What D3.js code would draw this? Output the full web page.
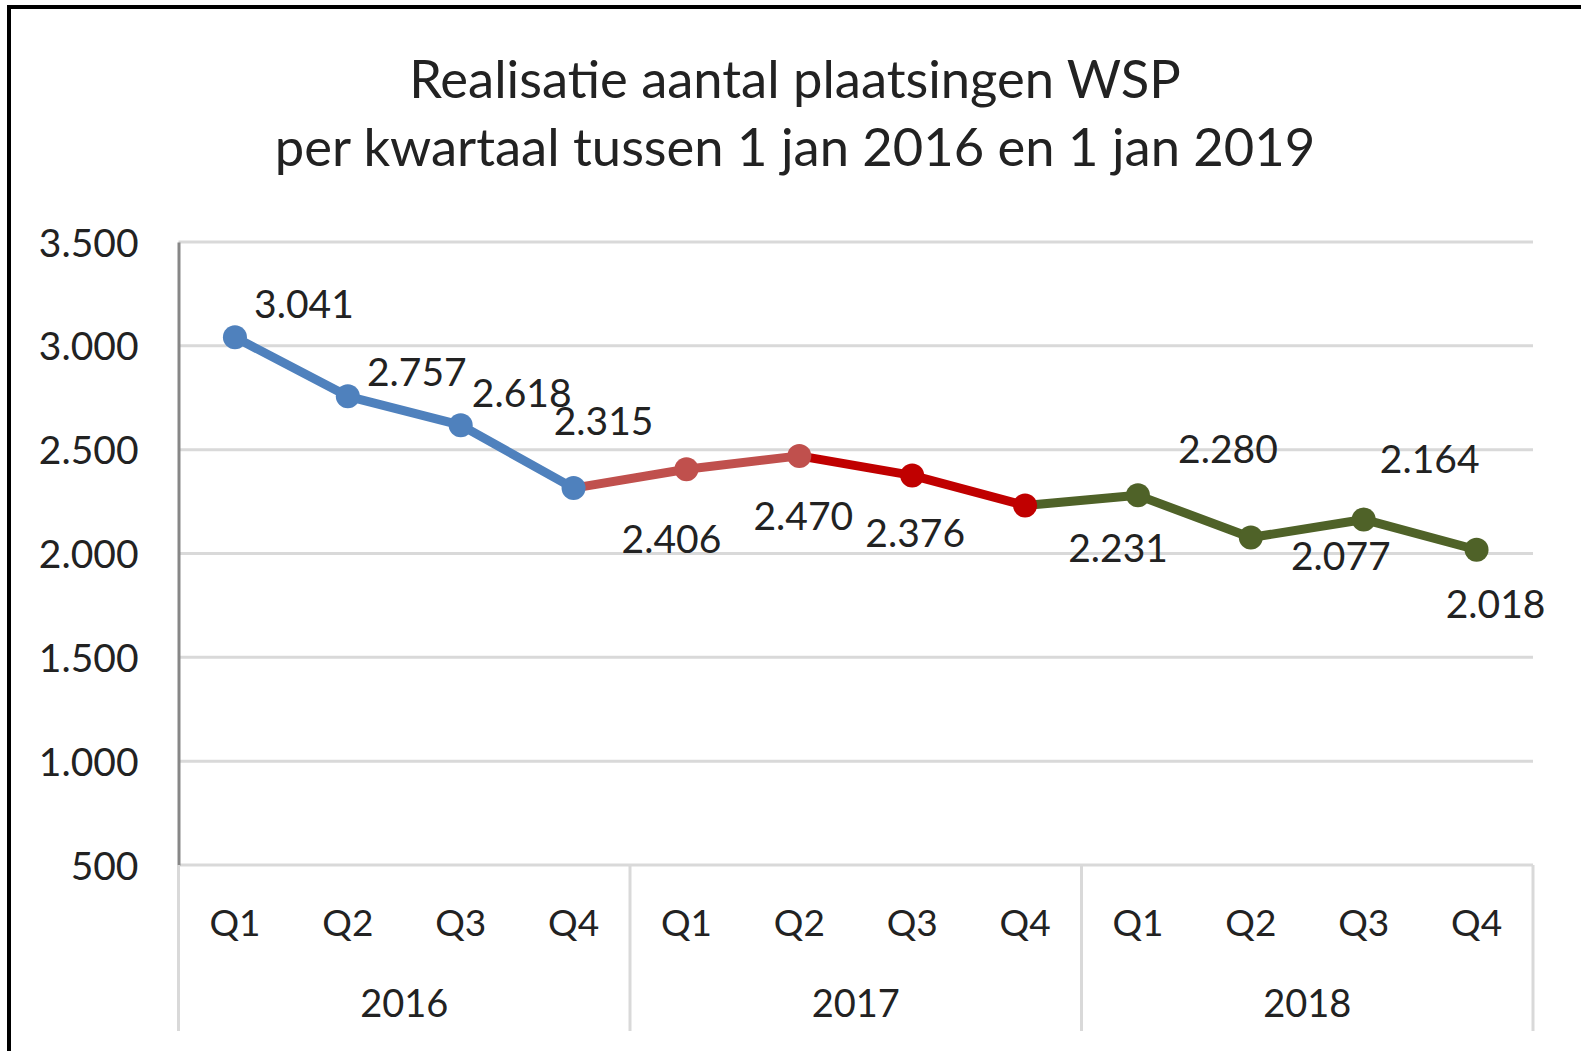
<!DOCTYPE html>
<html lang="nl">
<head>
  <meta charset="UTF-8">
  <title>Realisatie aantal plaatsingen WSP</title>
  <style>
    body { margin: 0; background: #fff; }
    text { font-family: Lato, "Noto Sans", sans-serif; fill: #222; }
  </style>
</head>
<body>
  <script src="https://d3js.org/d3.v7.min.js"></script>
  <script>
    // data
    const years = ['2016', '2017', '2018'];
    const quarters = ['Q1', 'Q2', 'Q3', 'Q4'];
    const values = [3041, 2757, 2618, 2315, 2406, 2470, 2376, 2231, 2280, 2077, 2164, 2018];
    const yTicks = [500, 1000, 1500, 2000, 2500, 3000, 3500];
    const titleLines = ['Realisatie aantal plaatsingen WSP', 'per kwartaal tussen 1 jan 2016 en 1 jan 2019'];

    // colours per point (segment i-1 -> i uses colour of point i)
    const pointColors = ['#4f81bd', '#4f81bd', '#4f81bd', '#4f81bd',
                         '#c0504d', '#c0504d', '#c00000', '#c00000',
                         '#4f6228', '#4f6228', '#4f6228', '#4f6228'];
    // label offsets from the point (dx, dy to baseline), as placed in the original
    const labelOffset = [[69, -19], [69, -10], [61, -18], [30, -53],
                         [-15, 84], [4, 74], [3, 72], [93, 56],
                         [90, -32], [90, 32], [66, -46], [19, 68]];

    const [width, height] = [1581, 1051];
    const margin = { top: 242, left: 178.5, right: 48, bottom: 186 };

    const svg = d3.select('body').append('svg').attr('width', width).attr('height', height);

    // frame (top + left black edge)
    svg.append('rect').attr('x', 7).attr('y', 5).attr('width', width).attr('height', 4).attr('fill', '#000');
    svg.append('rect').attr('x', 7).attr('y', 5).attr('width', 4).attr('height', height).attr('fill', '#000');

    const nl = d3.formatLocale({ decimal: ',', thousands: '.', grouping: [3], currency: ['€', ''] });
    const fmt = nl.format(',');

    const idx = d3.range(values.length);
    const xScale = d3.scaleBand()
                     .domain(idx)
                     .range([margin.left, width - margin.right])
                     .padding(0);
    const cx = i => xScale(i) + xScale.bandwidth() / 2;
    const yScale = d3.scaleLinear()
                     .domain([500, 3500])
                     .range([height - margin.bottom, margin.top]);

    // title
    svg.append('text')
      .attr('x', 795)
      .attr('text-anchor', 'middle')
      .attr('font-size', 52.5)
      .selectAll('tspan')
      .data(titleLines)
      .join('tspan')
      .attr('x', 795)
      .attr('y', (d, i) => 98 + i * 68)
      .text(d => d);

    // gridlines
    svg.append('g')
      .selectAll('line')
      .data(yTicks)
      .join('line')
      .attr('x1', margin.left)
      .attr('x2', width - margin.right)
      .attr('y1', d => yScale(d))
      .attr('y2', d => yScale(d))
      .attr('stroke', '#d9d9d9')
      .attr('stroke-width', 3);

    // y axis
    const yAxis = d3.axisLeft(yScale).tickValues(yTicks).tickFormat(fmt).tickSize(0).tickPadding(40);
    const gy = svg.append('g')
      .attr('transform', `translate(${margin.left}, 0)`)
      .call(yAxis);
    gy.select('.domain').attr('stroke', '#878787').attr('stroke-width', 3);
    gy.selectAll('text').attr('font-size', 39).attr('font-family', 'Lato').attr('fill', '#222').attr('dy', '0.36em');

    // category axis (quarters + years)
    const yBase = yScale(500);
    const yBottom = 1031;
    const groupEdges = d3.range(years.length + 1).map(k => margin.left + k * 4 * xScale.bandwidth());
    svg.append('g')
      .selectAll('line')
      .data(groupEdges)
      .join('line')
      .attr('x1', d => d)
      .attr('x2', d => d)
      .attr('y1', yBase)
      .attr('y2', yBottom)
      .attr('stroke', '#d9d9d9')
      .attr('stroke-width', 3);

    svg.append('g')
      .selectAll('text')
      .data(idx)
      .join('text')
      .attr('x', d => cx(d))
      .attr('y', 936)
      .attr('text-anchor', 'middle')
      .attr('font-size', 37)
      .text(d => quarters[d % 4]);

    svg.append('g')
      .selectAll('text')
      .data(years)
      .join('text')
      .attr('x', (d, k) => (groupEdges[k] + groupEdges[k + 1]) / 2)
      .attr('y', 1017)
      .attr('text-anchor', 'middle')
      .attr('font-size', 38)
      .text(d => d);

    // line segments
    svg.append('g')
      .selectAll('line')
      .data(idx.slice(1))
      .join('line')
      .attr('x1', i => cx(i - 1))
      .attr('y1', i => yScale(values[i - 1]))
      .attr('x2', i => cx(i))
      .attr('y2', i => yScale(values[i]))
      .attr('stroke', i => pointColors[i])
      .attr('stroke-width', 9)
      .attr('stroke-linecap', 'round');

    // markers
    svg.append('g')
      .selectAll('circle')
      .data(idx)
      .join('circle')
      .attr('cx', i => cx(i))
      .attr('cy', i => yScale(values[i]))
      .attr('r', 12)
      .attr('fill', i => pointColors[i]);

    // data labels
    svg.append('g')
      .selectAll('text')
      .data(idx)
      .join('text')
      .attr('x', i => cx(i) + labelOffset[i][0])
      .attr('y', i => yScale(values[i]) + labelOffset[i][1])
      .attr('text-anchor', 'middle')
      .attr('font-size', 39)
      .text(i => fmt(values[i]));
  </script>
</body>
</html>
